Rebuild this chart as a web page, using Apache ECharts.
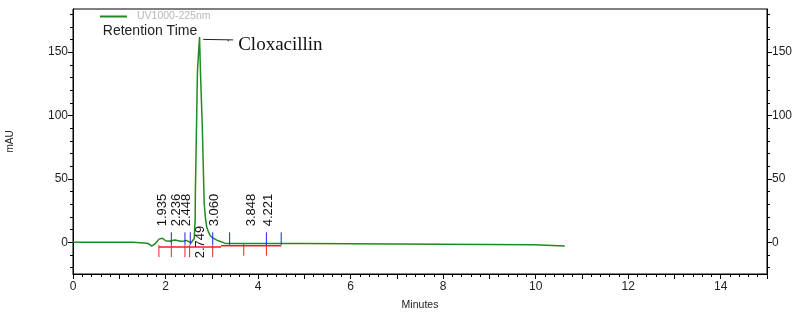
<!DOCTYPE html>
<html>
<head>
<meta charset="utf-8">
<script src="https://cdn.jsdelivr.net/npm/echarts@6/dist/echarts.min.js"></script>
<style>
  html, body { margin: 0; padding: 0; background: #fff; }
  #chart { width: 800px; height: 316px; }
</style>
</head>
<body>
<div id="chart"></div>
<script>
// detector trace, minutes / mAU
var traceTime = [0, 1.30, 1.31, 1.60, 1.65, 1.70, 1.74, 1.78, 1.82, 1.86, 1.90, 1.935, 1.97, 2.00, 2.05, 2.10, 2.15, 2.20, 2.236, 2.28, 2.33, 2.40, 2.448, 2.50, 2.55, 2.58, 2.62, 2.64, 2.645, 2.685, 2.69, 2.73, 2.735, 2.75, 2.755, 2.79, 2.795, 2.83, 2.835, 2.86, 2.89, 2.93, 2.97, 3.02, 3.06, 3.12, 3.20, 3.30, 4.98, 5.00, 9.97, 9.98, 10.63];
var traceMAU  = [0, 0, -0.7, -0.7, -1.5, -3, -2.5, -1, 0.5, 2.5, 3, 3.2, 2, 1.2, 1, 0.8, 1.5, 1.8, 2, 1.2, 0.8, 1, 1.5, 0.5, -0.5, 0.5, 3, 18, 39, 40, 135, 135, 162, 162, 134, 134, 91, 91, 31, 20, 12, 8, 5, 3.5, 2.5, 1.5, 0.5, -1, -1, -2, -2, -3, -3];

// integration results
var peakTimes = [1.935, 2.236, 2.448, 2.749, 3.060, 3.848, 4.221];
var peakBounds = [2.125, 2.42, 2.535, 3.02, 3.385, 4.18, 4.50];   // blue marks
var peakDrops = [1.857, 2.125, 2.42, 2.52, 3.02, 3.69, 4.18];     // red marks
var baseFrom = [1.857, 3.2];
var baseTo = [3.2, 4.5];
var baseLevel = [-3.8, -2.7];

var namedPeak = 'Cloxacillin';
var namedPeakTime = 2.749;
var namedPeakHeight = 162;

// axes
var xLabels = [0, 2, 4, 6, 8, 10, 12, 14];
var xTicks = [0, 1, 2, 3, 4, 5, 6, 7, 8, 9, 10, 11, 12, 13, 14, 15];
var yLabels = [0, 50, 100, 150];
var yMinor = [-20, -10, 0, 10, 20, 30, 40, 50, 60, 70, 80, 90, 100, 110, 120, 130, 140, 150, 160, 170, 180];

var trace = traceTime.map(function (t, i) { return [t, traceMAU[i]]; });

function levelAt(t) {
  for (var i = 0; i < baseFrom.length; i++) {
    if (t >= baseFrom[i] - 1e-6 && t <= baseTo[i] + 1e-6) return baseLevel[i];
  }
  return baseLevel[0];
}

var axisCol = '#000';
var txtCol = '#222';
var sans = 'Liberation Sans, Arial';

function yAx(pos, major) {
  return {
    type: 'value', position: pos, min: -25, max: 184,
    axisLine: { show: major, onZero: false, lineStyle: { color: axisCol, width: 1 } },
    axisTick: { show: true, inside: false, length: major ? 5 : 3, customValues: major ? yLabels : yMinor, lineStyle: { color: axisCol } },
    axisLabel: { show: major, customValues: yLabels, margin: 5, color: txtCol, fontSize: 12, fontFamily: sans },
    splitLine: { show: false },
    name: (major && pos === 'left') ? 'mAU' : '',
    nameLocation: 'middle', nameRotate: 90, nameGap: 58,
    nameTextStyle: { color: txtCol, fontSize: 10, fontFamily: sans }
  };
}

var chart = echarts.init(document.getElementById('chart'));
chart.setOption({
  animation: false,
  backgroundColor: '#fff',
  grid: { left: 73, right: 33, top: 9, bottom: 42, show: true, borderColor: '#000', borderWidth: 1, backgroundColor: 'transparent', containLabel: false, outerBoundsMode: 'none' },
  legend: {
    left: 100, top: 11, padding: 0, itemWidth: 27, itemHeight: 2, itemGap: 10,
    data: [{ name: 'UV1000-225nm', icon: 'rect' }],
    textStyle: { color: '#b8b8b8', fontSize: 10.5, fontFamily: sans, padding: [0, 0, 0, 5] }
  },
  xAxis: {
    type: 'value', min: 0, max: 15, interval: 1, position: 'bottom',
    axisLine: { onZero: false, lineStyle: { color: axisCol, width: 1 } },
    axisTick: { customValues: xTicks, length: 5, lineStyle: { color: axisCol } },
    minorTick: { show: true, splitNumber: 5, length: 3, lineStyle: { color: axisCol } },
    axisLabel: { customValues: xLabels, margin: 7, color: txtCol, fontSize: 12, fontFamily: sans },
    splitLine: { show: false },
    minorSplitLine: { show: false },
    name: 'Minutes', nameLocation: 'middle', nameGap: 26,
    nameTextStyle: { color: txtCol, fontSize: 10.5, fontFamily: sans }
  },
  yAxis: [yAx('left', true), yAx('left', false), yAx('right', true), yAx('right', false)],
  series: [{
    name: 'UV1000-225nm', type: 'line', data: trace,
    showSymbol: false, symbol: 'none',
    itemStyle: { color: '#1e8c1e' },
    lineStyle: { color: '#1e8c1e', width: 1.5 },
    z: 3
  }, {
    // red drop baseline
    type: 'custom', data: baseFrom.map(function (f, i) { return [f, baseTo[i], baseLevel[i]]; }),
    renderItem: function (params, api) {
      var a = api.coord([api.value(0), api.value(2)]);
      var b = api.coord([api.value(1), api.value(2)]);
      return { type: 'line', shape: { x1: a[0], y1: a[1], x2: b[0], y2: b[1] }, style: { stroke: '#f02020', lineWidth: 1.5 } };
    },
    z: 4
  }, {
    type: 'custom', data: peakDrops.map(function (t) { return [t, levelAt(t)]; }),
    renderItem: function (params, api) {
      var p = api.coord([api.value(0), api.value(1)]);
      return { type: 'line', shape: { x1: p[0], y1: p[1] - 2, x2: p[0], y2: p[1] + 10 }, style: { stroke: '#f02020', lineWidth: 1 } };
    },
    z: 4
  }, {
    type: 'custom', data: peakBounds.map(function (t) { return [t, -2]; }),
    renderItem: function (params, api) {
      var p = api.coord([api.value(0), api.value(1)]);
      return { type: 'line', shape: { x1: p[0], y1: p[1], x2: p[0], y2: p[1] - 12.5 }, style: { stroke: '#2020f0', lineWidth: 1 } };
    },
    z: 4
  }, {
    // retention time labels
    type: 'custom', data: peakTimes.map(function (t) { return [t, 0]; }),
    renderItem: function (params, api) {
      var t = api.value(0);
      var p = api.coord([t, 0]);
      var below = Math.abs(t - namedPeakTime) < 1e-6;
      return {
        type: 'text', x: p[0], y: below ? p[1] + 16 : p[1] - 16, rotation: Math.PI / 2,
        style: { text: t.toFixed(3), fill: '#111', fontSize: 13, fontFamily: sans, align: 'left', verticalAlign: 'middle' }
      };
    },
    z: 5
  }, {
    // named peak annotation
    type: 'custom', data: [[namedPeakTime, namedPeakHeight]],
    renderItem: function (params, api) {
      var p = api.coord([api.value(0), api.value(1)]);
      return {
        type: 'group', children: [
          { type: 'text', x: p[0] - 3, y: p[1] - 6, style: { text: 'Retention Time', fill: '#222', fontSize: 14, fontFamily: sans, align: 'right', verticalAlign: 'middle' } },
          { type: 'line', shape: { x1: p[0] + 3, y1: p[1] + 2.5, x2: p[0] + 33, y2: p[1] + 3 }, style: { stroke: '#222', lineWidth: 1 } },
          { type: 'line', shape: { x1: p[0] + 28, y1: p[1] + 3, x2: p[0] + 28, y2: p[1] + 4.5 }, style: { stroke: '#222', lineWidth: 1 } },
          { type: 'text', x: p[0] + 38, y: p[1] + 8, style: { text: namedPeak, fill: '#111', fontSize: 19, fontFamily: 'Liberation Serif, Times New Roman', align: 'left', verticalAlign: 'middle' } }
        ]
      };
    },
    z: 6
  }]
});
</script>
</body>
</html>
